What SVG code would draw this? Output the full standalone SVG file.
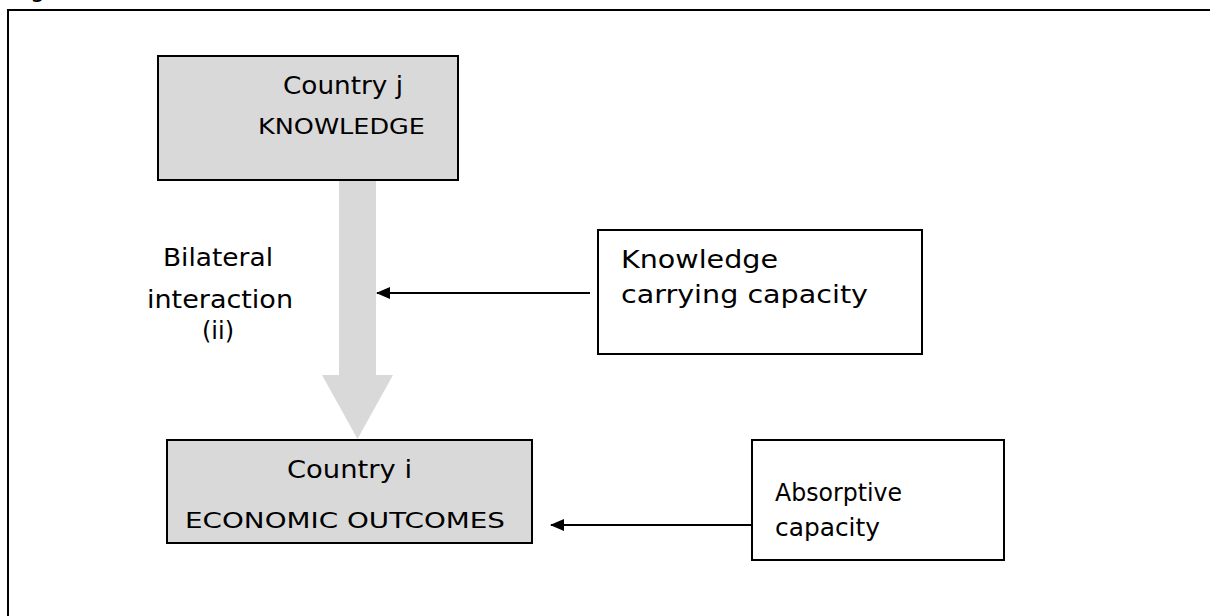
<svg xmlns="http://www.w3.org/2000/svg" width="1210" height="616" viewBox="0 0 1210 616">
<style>
.t{font-family:"DejaVu Sans","Liberation Sans",sans-serif;fill:#000}
.big{font-size:24px}
.sm{font-size:21px}
.grey{fill:#d9d9d9;stroke:#000;stroke-width:2}
.white{fill:#fff;stroke:#000;stroke-width:2}
.conn{stroke:#000;stroke-width:2;fill:none}
</style>
<defs>
<marker id="ah2" markerWidth="14" markerHeight="12" refX="13" refY="6" orient="auto" markerUnits="userSpaceOnUse" viewBox="0 0 14 12">
<path d="M0,0 L14,6 L0,12 z" fill="#000"/>
</marker>
</defs>
<rect width="1210" height="616" fill="#fff"/>
<text class="t big" x="30" y="-3">g</text>
<path d="M8,616 V10 H1210" fill="none" stroke="#000" stroke-width="2"/>
<g id="connectors">
<polygon points="339,180 376,180 376,375 393,375 357.5,439 322,375 339,375" fill="#d9d9d9"/>
<line class="conn" x1="590" y1="293" x2="377" y2="293" marker-end="url(#ah2)"/>
<line class="conn" x1="752" y1="525" x2="551" y2="525" marker-end="url(#ah2)"/>
</g>
<g id="countryj">
<rect class="grey" x="158" y="56" width="300" height="124"/>
<text class="t big" x="283" y="94" textLength="120" lengthAdjust="spacingAndGlyphs">Country j</text>
<text class="t sm" x="258" y="134" textLength="167" lengthAdjust="spacingAndGlyphs">KNOWLEDGE</text>
</g>
<g id="bilateral">
<text class="t big" x="163" y="266" textLength="110" lengthAdjust="spacingAndGlyphs">Bilateral</text>
<text class="t big" x="147" y="308" textLength="146" lengthAdjust="spacingAndGlyphs">interaction</text>
<text class="t big" x="218" y="339" text-anchor="middle">(ii)</text>
</g>
<g id="kcc">
<rect class="white" x="598" y="230" width="324" height="124"/>
<text class="t big" x="621" y="268" textLength="157" lengthAdjust="spacingAndGlyphs">Knowledge</text>
<text class="t big" x="621" y="303" textLength="247" lengthAdjust="spacingAndGlyphs">carrying capacity</text>
</g>
<g id="countryi">
<rect class="grey" x="167" y="440" width="365" height="103"/>
<text class="t big" x="287" y="478" textLength="125" lengthAdjust="spacingAndGlyphs">Country i</text>
<text class="t sm" x="185" y="528" textLength="320" lengthAdjust="spacingAndGlyphs">ECONOMIC OUTCOMES</text>
</g>
<g id="absorptive">
<rect class="white" x="752" y="440" width="252" height="120"/>
<text class="t big" x="775" y="501" textLength="127" lengthAdjust="spacingAndGlyphs">Absorptive</text>
<text class="t big" x="775" y="536" textLength="105" lengthAdjust="spacingAndGlyphs">capacity</text>
</g>
</svg>
